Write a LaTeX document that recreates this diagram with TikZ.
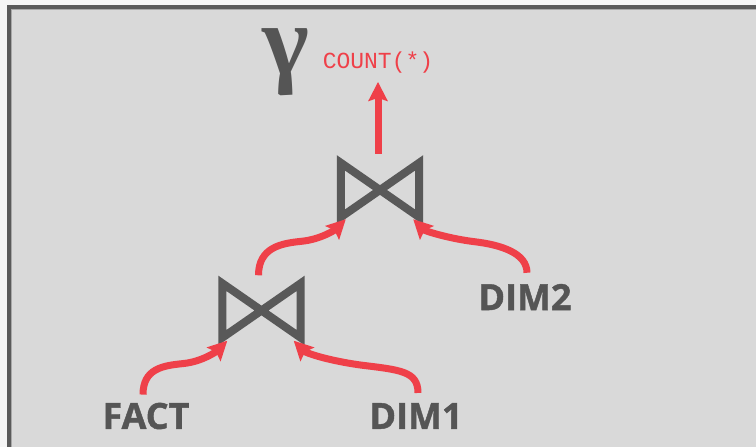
\documentclass[tikz,border=0pt]{standalone}
\usepackage{fontspec}
\setmainfont{Open Sans}
\newfontfamily\monofnt{Liberation Mono}
\newfontfamily\greekfnt{Liberation Serif}
\usetikzlibrary{arrows.meta,calc}
\definecolor{bgout}{HTML}{F5F5F5}
\definecolor{panel}{HTML}{D9D9D9}
\definecolor{framec}{HTML}{5A5A5A}
\definecolor{framein}{HTML}{A8A8A8}
\definecolor{inkgray}{HTML}{555555}
\definecolor{tiegray}{HTML}{595959}
\definecolor{arrowred}{HTML}{EF4049}
\begin{document}
\begin{tikzpicture}[x=1pt,y=-1pt,
  lbl/.style={inner sep=0pt, text=inkgray, font=\fontsize{36}{36}\selectfont\bfseries\addfontfeature{FakeBold=1.2}},
  joinbox/.style={inner sep=0pt, minimum width=78pt, minimum height=54pt},
  bowtie/.style={draw=tiegray, line width=8pt, miter limit=10, line join=miter},
  redarrow/.style={draw=arrowred, line width=7pt, -{Stealth[length=19pt,width=19pt,inset=3pt]}}]
\fill[bgout] (0,0) rectangle (756,447);
\useasboundingbox (0,0) rectangle (756,447);
\fill[panel] (9,7) rectangle (756,447);
\draw[framein, line width=1pt] (11.5,447) -- (11.5,9.5) -- (756,9.5);
\draw[framec, line width=4pt] (9,447) -- (9,7) -- (756,7);

% texts
\node[inner sep=0pt, text=inkgray, font=\greekfnt\bfseries\fontsize{100}{100}\selectfont] (gamma) at (286,62) {γ};
\node[inner sep=0pt, text=arrowred, font=\monofnt\fontsize{23}{23}\selectfont] (count) at (378,63) {COUNT(*)};
\node[lbl] (fact) at (146,416) {FACT};
\node[lbl] (dimone) at (416,416) {DIM1};
\node[lbl] (dimtwo) at (525,297) {DIM2};

% joins
\node[joinbox] (j2) at (380,190) {};
\node[joinbox] (j1) at (261.5,310.5) {};
\draw[bowtie] (j2.north west) -- (j2.south east) -- (j2.north east) -- (j2.south west) -- cycle;
\draw[bowtie] (j1.north west) -- (j1.south east) -- (j1.north east) -- (j1.south west) -- cycle;

% arrows
\draw[redarrow] ($(j2.north)+(-2,-9)$) -- ($(count.south)+(0,8)$);
\draw[redarrow] ($(j1.north)+(-3,-8)$) .. controls +(0,-28) and +(-20,2) .. ($(j1.north)+(40,-42)$)
   .. controls +(20,-2) and +(-10,10) .. ($(j2.south west)+(5,2)$);
\draw[redarrow] ($(dimtwo.north)+(2,-11)$) .. controls +(0,-20) and +(25,3) .. ($(dimtwo.north)+(-50,-42)$)
   .. controls +(-25,-3) and +(12,12) .. ($(j2.south east)+(-6,2)$);
\draw[redarrow] ($(fact.north)+(-3,-8)$) .. controls +(0,-26) and +(-20,2) .. ($(fact.north)+(37,-39)$)
   .. controls +(20,-2) and +(-10,10) .. ($(j1.south west)+(5,3)$);
\draw[redarrow] ($(dimone.north)+(2,-10)$) .. controls +(0,-22) and +(40,5) .. ($(dimone.north)+(-56,-38)$)
   .. controls +(-35,-5) and +(12,12) .. ($(j1.south east)+(-7,3)$);
\end{tikzpicture}
\end{document}
